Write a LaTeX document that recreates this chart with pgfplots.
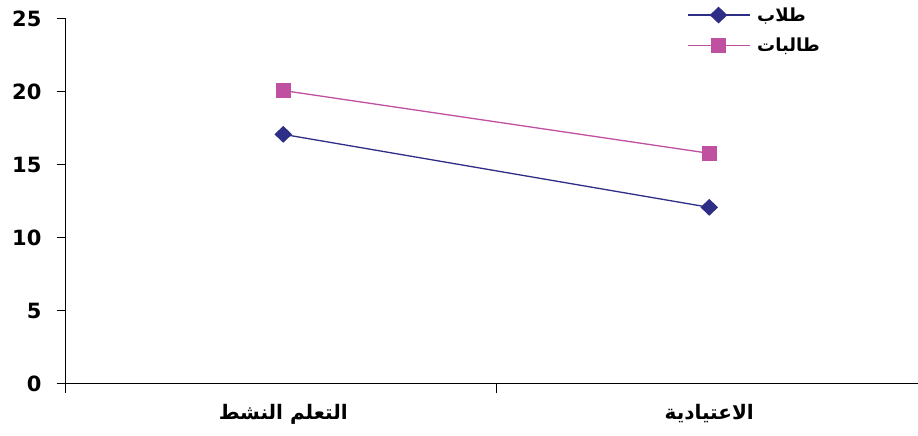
\documentclass[border=0pt]{standalone}
\usepackage{fontspec}
\setmainfont{DejaVu Sans}
\newfontfamily\arabicfont[Script=Arabic]{DejaVu Sans}
\TeXXeTstate=1
\usepackage{pgfplots}
\pgfplotsset{compat=1.18}
\definecolor{navyS}{RGB}{46,46,134}
\definecolor{pinkS}{RGB}{192,80,160}

\begin{document}
\begin{tikzpicture}
\begin{axis}[
  name=ax,
  scale only axis,
  width=852pt, height=365pt,
  xmin=-0.51, xmax=1.49,
  ymin=0, ymax=25,
  axis lines*=left,
  axis line style={black, line width=1pt},
  tick style={black, line width=1pt},
  tick align=outside,
  major tick length=9pt,
  xtick={-0.51,0.5},
  xticklabels={},
  extra x ticks={0,1},
  extra x tick labels={{\arabicfont\bfseries\beginR التعلم النشط\endR},{\arabicfont\bfseries\beginR الاعتيادية\endR}},
  extra x tick style={major tick length=0pt,
    x tick label style={font=\fontsize{20}{22}\selectfont, yshift=-17pt}},
  ytick={0,5,10,15,20,25},
  y tick label style={font=\bfseries\fontsize{21}{24}\selectfont, xshift=-12pt},
  /pgf/number format/assume math mode=true,
  legend style={draw=none, fill=none, at={(0.725,1.043)}, anchor=north west,
    font=\fontsize{18}{20}\selectfont, row sep=11pt,
    /tikz/every odd column/.append style={column sep=5pt}},
  legend cell align=left,
  legend image code/.code={\draw[mark repeat=2,mark phase=2,#1] plot coordinates {(0pt,0pt) (31pt,0pt) (62pt,0pt)};},
]
\addplot[navyS, line width=1.3pt, mark=diamond*, mark size=7.5pt, mark options={fill=navyS, xscale=1.4}]
  coordinates {(0,17.1) (1,12.1)};
\addlegendentry{\arabicfont\bfseries\beginR طلاب\endR}
\addplot[pinkS, line width=1.3pt, mark=square*, mark size=7pt, mark options={fill=pinkS}]
  coordinates {(0,20.1) (1,15.8)};
\addlegendentry{\arabicfont\bfseries\beginR طالبات\endR}
\end{axis}
\pgfresetboundingbox
\path[use as bounding box] ([shift={(-66pt,-52pt)}]ax.south west) rectangle ([shift={(0pt,19pt)}]ax.north east);
\end{tikzpicture}
\end{document}
